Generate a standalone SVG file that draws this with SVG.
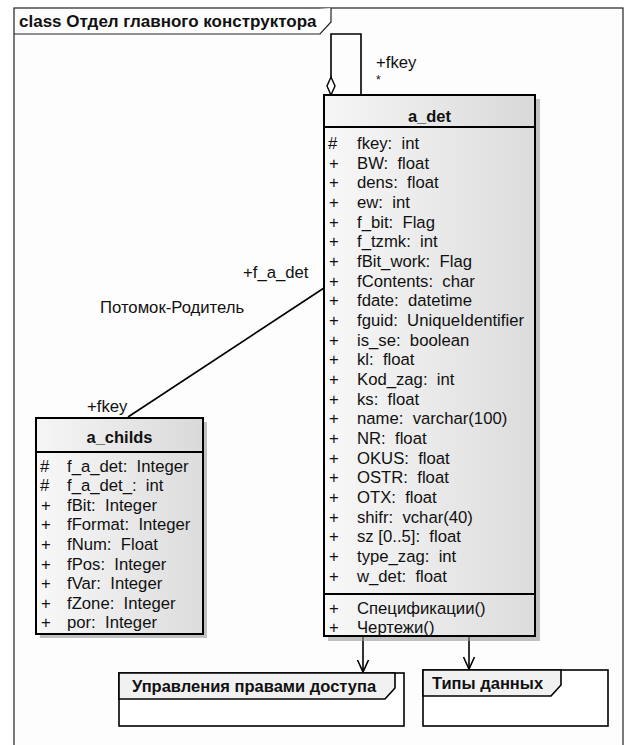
<svg xmlns="http://www.w3.org/2000/svg" width="626" height="745" viewBox="0 0 626 745">
<defs>
<linearGradient id="gh" x1="0" y1="0" x2="1" y2="0"><stop offset="0" stop-color="#f6f6f6"/><stop offset="1" stop-color="#d9d9d9"/></linearGradient>
<linearGradient id="gb" x1="0" y1="0" x2="1" y2="0"><stop offset="0" stop-color="#f8f8f8"/><stop offset="1" stop-color="#dcdcdc"/></linearGradient>
<marker id="open" markerWidth="14" markerHeight="14" refX="13" refY="7" orient="auto" markerUnits="userSpaceOnUse" viewBox="0 0 14 14"><path d="M1,1.5 L13,7 L1,12.5" fill="none" stroke="#000" stroke-width="1.6"/></marker>
</defs>
<style>
text{font-family:"Liberation Sans",Arial,sans-serif;fill:#111;white-space:pre}
.a{font-size:16.7px}
.b{font-weight:bold;font-size:16.5px}
.box{stroke:#000;stroke-width:2}
.shadow{fill:#9a9a9a;opacity:0.6}
.ln{stroke:#000;stroke-width:1.6;fill:none}
.pk{fill:#fff;stroke:#000;stroke-width:1.6}
.tab{fill:#f1f1f1;stroke:#000;stroke-width:1.6}
</style>
<rect x="0" y="0" width="626" height="745" fill="#fff"/>
<g id="frame">
<rect x="14" y="8" width="609" height="740" fill="#fdfdfd" stroke="#222" stroke-width="1.2"/>
<path d="M14,34 L320,34 L331,22 L331,8" fill="#fff" stroke="#222" stroke-width="1.2"/>
<text x="19" y="27" class="b" style="font-size:17px">class Отдел главного конструктора</text>
</g>
<g id="connectors">
<path class="ln" d="M331,77 L331,34 L361,34 L361,95"/>
<path d="M331,77 L335,86 L331,95 L327,86 Z" fill="#fff" stroke="#000" stroke-width="1.4"/>
<text x="376" y="68" class="a">+fkey</text>
<text x="376" y="84" font-size="12">*</text>
<line class="ln" x1="324" y1="288" x2="128" y2="417"/>
<text x="243" y="278" class="a">+f_a_det</text>
<text x="100" y="313" class="a">Потомок-Родитель</text>
<text x="87" y="412" class="a">+fkey</text>
<line class="ln" x1="363" y1="637" x2="363" y2="672" marker-end="url(#open)"/>
<line class="ln" x1="469" y1="637" x2="469" y2="669" marker-end="url(#open)"/>
</g>
<g id="a_det">
<rect class="shadow" x="328" y="99" width="212" height="542"/>
<rect x="324" y="95" width="211" height="32" fill="url(#gh)" class="box"/>
<rect x="324" y="127" width="211" height="509" fill="url(#gb)" class="box"/>
<line x1="324" y1="594" x2="535" y2="594" stroke="#000" stroke-width="2"/>
<text x="429.5" y="122" class="b" text-anchor="middle">a_det</text>
<g class="a">
<text x="328" y="149">#</text><text x="357" y="149">fkey:  int</text>
<text x="329" y="169">+</text><text x="357" y="169">BW:  float</text>
<text x="329" y="188">+</text><text x="357" y="188">dens:  float</text>
<text x="329" y="208">+</text><text x="357" y="208">ew:  int</text>
<text x="329" y="228">+</text><text x="357" y="228">f_bit:  Flag</text>
<text x="329" y="247">+</text><text x="357" y="247">f_tzmk:  int</text>
<text x="329" y="267">+</text><text x="357" y="267">fBit_work:  Flag</text>
<text x="329" y="287">+</text><text x="357" y="287">fContents:  char</text>
<text x="329" y="306">+</text><text x="357" y="306">fdate:  datetime</text>
<text x="329" y="326">+</text><text x="357" y="326">fguid:  UniqueIdentifier</text>
<text x="329" y="346">+</text><text x="357" y="346">is_se:  boolean</text>
<text x="329" y="365">+</text><text x="357" y="365">kl:  float</text>
<text x="329" y="385">+</text><text x="357" y="385">Kod_zag:  int</text>
<text x="329" y="405">+</text><text x="357" y="405">ks:  float</text>
<text x="329" y="424">+</text><text x="357" y="424">name:  varchar(100)</text>
<text x="329" y="444">+</text><text x="357" y="444">NR:  float</text>
<text x="329" y="464">+</text><text x="357" y="464">OKUS:  float</text>
<text x="329" y="483">+</text><text x="357" y="483">OSTR:  float</text>
<text x="329" y="503">+</text><text x="357" y="503">OTX:  float</text>
<text x="329" y="523">+</text><text x="357" y="523">shifr:  vchar(40)</text>
<text x="329" y="542">+</text><text x="357" y="542">sz [0..5]:  float</text>
<text x="329" y="562">+</text><text x="357" y="562">type_zag:  int</text>
<text x="329" y="582">+</text><text x="357" y="582">w_det:  float</text>
<text x="329" y="614">+</text><text x="357" y="614">Спецификации()</text>
<text x="329" y="633">+</text><text x="357" y="633">Чертежи()</text>
</g>
</g>
<g id="a_childs">
<rect class="shadow" x="40" y="422" width="167" height="216"/>
<rect x="36" y="418" width="167" height="34" fill="url(#gh)" class="box"/>
<rect x="36" y="452" width="167" height="182" fill="url(#gb)" class="box"/>
<text x="119.5" y="443" class="b" text-anchor="middle">a_childs</text>
<g class="a">
<text x="40" y="472">#</text><text x="67" y="472">f_a_det:  Integer</text>
<text x="40" y="491">#</text><text x="67" y="491">f_a_det_:  int</text>
<text x="41" y="511">+</text><text x="67" y="511">fBit:  Integer</text>
<text x="41" y="530">+</text><text x="67" y="530">fFormat:  Integer</text>
<text x="41" y="550">+</text><text x="67" y="550">fNum:  Float</text>
<text x="41" y="570">+</text><text x="67" y="570">fPos:  Integer</text>
<text x="41" y="589">+</text><text x="67" y="589">fVar:  Integer</text>
<text x="41" y="609">+</text><text x="67" y="609">fZone:  Integer</text>
<text x="41" y="628">+</text><text x="67" y="628">por:  Integer</text>
</g>
</g>
<g id="pkg_access">
<rect class="pk" x="119" y="673" width="285" height="53"/>
<path class="tab" d="M119,699 L119,673 L395,673 L395,688 L385,699 Z"/>
<text x="132" y="692" class="b">Управления правами доступа</text>
</g>
<g id="pkg_types">
<rect class="pk" x="423" y="670" width="185" height="56"/>
<path class="tab" d="M423,696 L423,670 L561,670 L561,685 L551,696 Z"/>
<text x="432" y="689" class="b">Типы данных</text>
</g>
</svg>
